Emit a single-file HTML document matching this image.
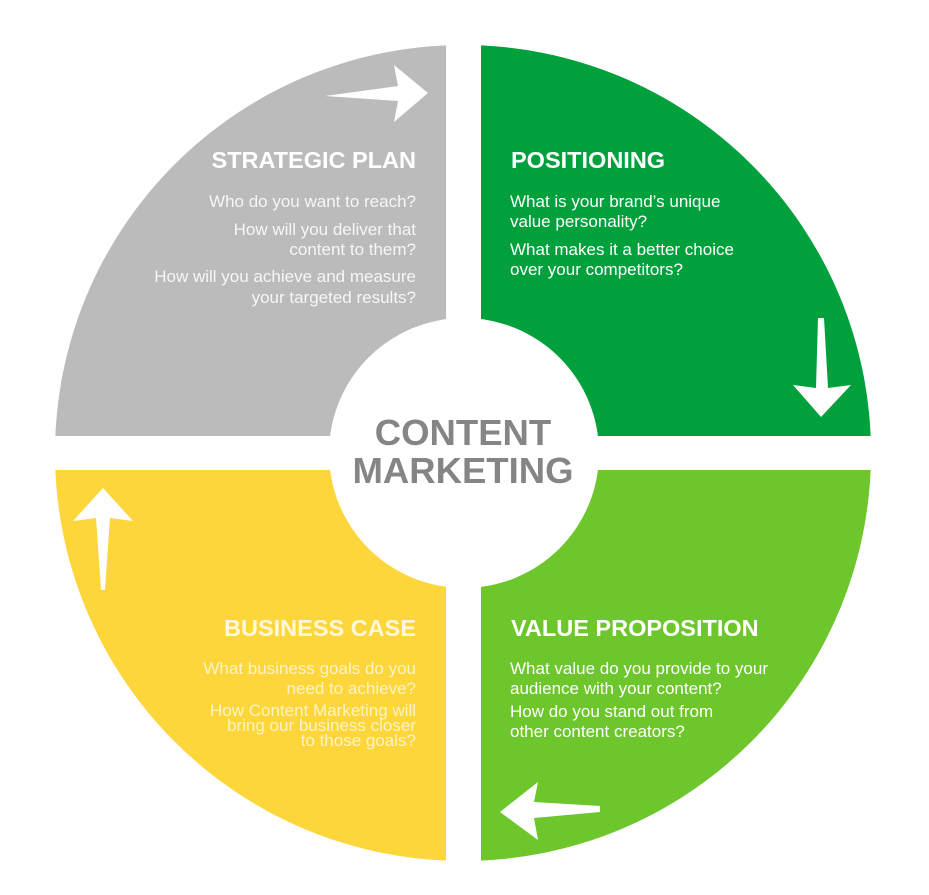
<!DOCTYPE html>
<html><head><style>html,body{margin:0;padding:0;background:#fff}svg{display:block}</style></head><body>
<svg width="929" height="895" viewBox="0 0 929 895" xmlns="http://www.w3.org/2000/svg" font-family="Liberation Sans, Arial, sans-serif">
<path d="M463,453 L463,45 A408,408 0 0 0 55,453 Z" fill="#bcbbbc"/>
<path d="M463,453 L463,45 A408,408 0 0 1 871,453 Z" fill="#00a03d"/>
<path d="M463,453 L871,453 A408,408 0 0 1 463,861 Z" fill="#6cc62c"/>
<path d="M463,453 L463,861 A408,408 0 0 1 55,453 Z" fill="#fdd63b"/>
<rect x="446" y="0" width="35" height="895" fill="#fff"/>
<rect x="0" y="436" width="929" height="34" fill="#fff"/>
<circle cx="464" cy="453" r="135" fill="#fff"/>
<polygon points="325,96 398,86 394,65 428,93 394,122 398,101" fill="#fff"/>
<polygon points="818,318 824,318 828,388 851,385 821,417 793,385 816,388" fill="#fff"/>
<polygon points="600,806 600,812 534,818 538,840 500,812 538,782 534,802" fill="#fff"/>
<polygon points="101,590 105,590 110,518 133,521 103,488 73,521 96,518" fill="#fff"/>
<g fill="#fff">
<text x="416" y="168" font-size="23.5" font-weight="bold" text-anchor="end">STRATEGIC PLAN</text>
<g font-size="17" text-anchor="end" fill="#f6f6f6">
<text x="416" y="207">Who do you want to reach?</text>
<text x="416" y="235">How will you deliver that</text>
<text x="416" y="255">content to them?</text>
<text x="416" y="282">How will you achieve and measure</text>
<text x="416" y="303">your targeted results?</text>
</g>
<text x="511" y="168" font-size="23.5" font-weight="bold">POSITIONING</text>
<g font-size="17">
<text x="510" y="207">What is your brand’s unique</text>
<text x="510" y="227">value personality?</text>
<text x="510" y="255">What makes it a better choice</text>
<text x="510" y="275">over your competitors?</text>
</g>
<text x="416" y="636" font-size="23.5" font-weight="bold" text-anchor="end" fill="#fff8dc">BUSINESS CASE</text>
<g font-size="17" text-anchor="end" fill="#fff4c4">
<text x="416" y="674">What business goals do you</text>
<text x="416" y="694">need to achieve?</text>
<text x="416" y="716">How Content Marketing will</text>
<text x="416" y="731">bring our business closer</text>
<text x="416" y="746">to those goals?</text>
</g>
<text x="511" y="636" font-size="23.5" font-weight="bold">VALUE PROPOSITION</text>
<g font-size="17">
<text x="510" y="674">What value do you provide to your</text>
<text x="510" y="694">audience with your content?</text>
<text x="510" y="717">How do you stand out from</text>
<text x="510" y="737">other content creators?</text>
</g>
</g>
<g fill="#858585" font-size="36.5" font-weight="bold" text-anchor="middle">
<text x="463" y="445">CONTENT</text>
<text x="463" y="483">MARKETING</text>
</g>
</svg>
</body></html>
